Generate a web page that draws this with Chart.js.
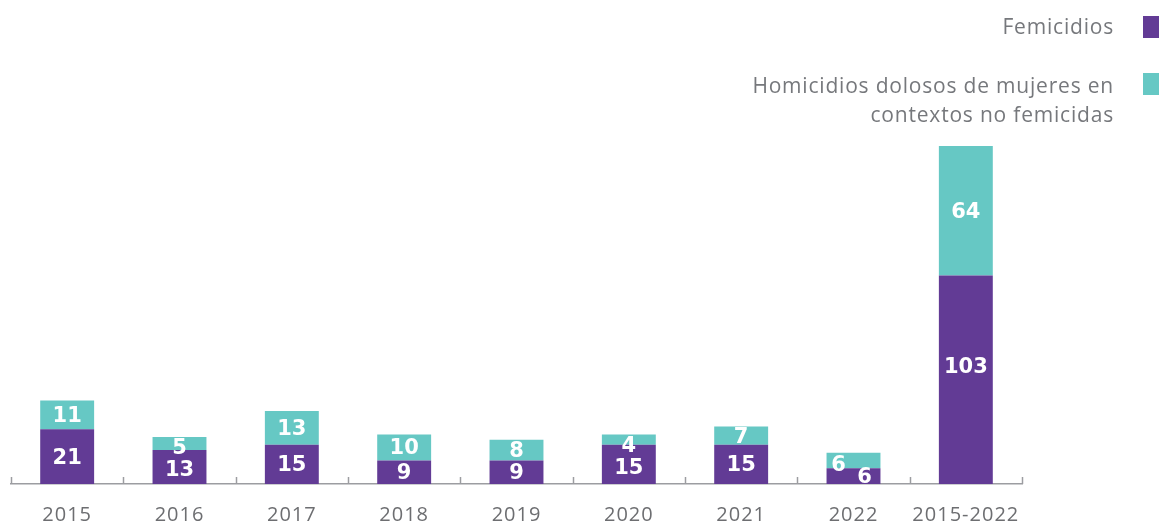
<!DOCTYPE html>
<html>
<head>
<meta charset="utf-8">
<script src="https://cdn.jsdelivr.net/npm/chart.js@4.4.0/dist/chart.umd.min.js"></script>
<style>
  html, body { margin: 0; padding: 0; background: #ffffff; }
  #wrap { position: relative; width: 1159px; height: 522px; overflow: hidden; }
  #c { position: absolute; left: 0; top: 0; }
  .leg { position: absolute; right: 45px; text-align: right; font-family: "Open Sans", sans-serif; font-weight: 400; font-size: 21px; letter-spacing: 0.8px; line-height: 29px; color: #76787C; }
  .sw { position: absolute; left: 1143px; width: 22px; height: 22px; }
</style>
</head>
<body>
<div id="wrap">
  <canvas id="c" width="1159" height="522"></canvas>
  <div id="legend"></div>
</div>
<script>
const categories = ['2015', '2016', '2017', '2018', '2019', '2020', '2021', '2022', '2015-2022'];
const femicidios = [21, 13, 15, 9, 9, 15, 15, 6, 103];
const homicidios = [11, 5, 13, 10, 8, 4, 7, 6, 64];
const seriesNames = ['Femicidios', 'Homicidios dolosos de mujeres en contextos no femicidas'];
const legendLines = [['Femicidios'], ['Homicidios dolosos de mujeres en', 'contextos no femicidas']];

const PURPLE = '#623B95';
const TEAL = '#66C8C4';
const totalIndex = categories.length - 1;

const yearsOnly = arr => arr.map((v, i) => i < totalIndex ? v : null);
const totalOnly = arr => arr.map((v, i) => i === totalIndex ? v : null);

const datasets = [
  { label: seriesNames[0], data: yearsOnly(femicidios), backgroundColor: PURPLE, yAxisID: 'y', series: 0 },
  { label: seriesNames[1], data: yearsOnly(homicidios), backgroundColor: TEAL, yAxisID: 'y', series: 1 },
  { label: seriesNames[0], data: totalOnly(femicidios), backgroundColor: PURPLE, yAxisID: 'y2', series: 0 },
  { label: seriesNames[1], data: totalOnly(homicidios), backgroundColor: TEAL, yAxisID: 'y2', series: 1 }
].map(d => Object.assign(d, { barPercentage: 0.48, categoryPercentage: 1.0, borderWidth: 0 }));

// HTML legend
const legTops = [12, 71];
const swTops = [16, 73];
const legendEl = document.getElementById('legend');
legendLines.forEach((lines, i) => {
  const t = document.createElement('div');
  t.className = 'leg';
  t.style.top = legTops[i] + 'px';
  t.innerHTML = lines.join('<br>');
  legendEl.appendChild(t);
  const s = document.createElement('div');
  s.className = 'sw';
  s.style.top = swTops[i] + 'px';
  s.style.background = i === 0 ? PURPLE : TEAL;
  legendEl.appendChild(s);
});

const textSpacing = {
  id: 'textSpacing',
  beforeDraw(chart) { chart.ctx.letterSpacing = '1px'; }
};

const valueLabels = {
  id: 'valueLabels',
  afterDatasetsDraw(chart) {
    const ctx = chart.ctx;
    ctx.save();
    ctx.fillStyle = '#ffffff';
    ctx.font = '700 21px "DejaVu Sans", sans-serif';
    ctx.letterSpacing = '0px';
    ctx.textAlign = 'center';
    ctx.textBaseline = 'middle';
    const tealY = {};
    [1, 3, 0, 2].forEach(di => {
      const ds = chart.data.datasets[di];
      const meta = chart.getDatasetMeta(di);
      meta.data.forEach((el, i) => {
        const v = ds.data[i];
        if (v === null || v === undefined) return;
        const h = Math.abs(el.base - el.y);
        let x = el.x;
        let y = (el.y + el.base) / 2 + 1.5;
        if (ds.series === 1) {
          if (h < 16) y = el.y + 12;
          tealY[i] = y;
        } else {
          if (i === totalIndex) y -= 14;
          else if (tealY[i] !== undefined) y = Math.max(y, tealY[i] + 22);
        }
        if (categories[i] === '2022') {
          x += ds.series === 1 ? -15 : 11;
          y = ds.series === 1 ? el.y + 13 : (el.y + el.base) / 2 + 1;
        }
        ctx.fillText(String(v), x, y);
      });
    });
    ctx.restore();
  }
};

const axisTicks = {
  id: 'axisTicks',
  afterDraw(chart) {
    const xs = chart.scales.x;
    const ctx = chart.ctx;
    const bottom = chart.chartArea.bottom;
    ctx.save();
    ctx.strokeStyle = '#9C9DA1';
    ctx.lineWidth = 1.5;
    const n = categories.length;
    const step = (xs.right - xs.left) / n;
    for (let i = 0; i <= n; i++) {
      const px = Math.round(xs.left + i * step) + 0.5;
      ctx.beginPath();
      ctx.moveTo(px, bottom - 7);
      ctx.lineTo(px, bottom);
      ctx.stroke();
    }
    ctx.restore();
  }
};

new Chart(document.getElementById('c'), {
  type: 'bar',
  data: { labels: categories, datasets },
  options: {
    responsive: false,
    animation: false,
    layout: { padding: { top: 146, left: 11, right: 137, bottom: 0 } },
    plugins: { legend: { display: false }, tooltip: { enabled: false } },
    scales: {
      x: {
        stacked: true,
        grid: { display: false },
        border: { display: true, color: '#9C9DA1', width: 1.5 },
        ticks: { color: '#6D6E71', font: { family: '"Open Sans", sans-serif', size: 20, weight: '400' }, padding: 11, maxRotation: 0, autoSkip: false },
        afterFit(scale) { scale.height = 38; }
      },
      y: { stacked: true, display: false, min: 0, max: 129.5 },
      y2: { stacked: true, display: false, min: 0, max: 167 }
    }
  },
  plugins: [textSpacing, valueLabels, axisTicks]
});
</script>
</body>
</html>
